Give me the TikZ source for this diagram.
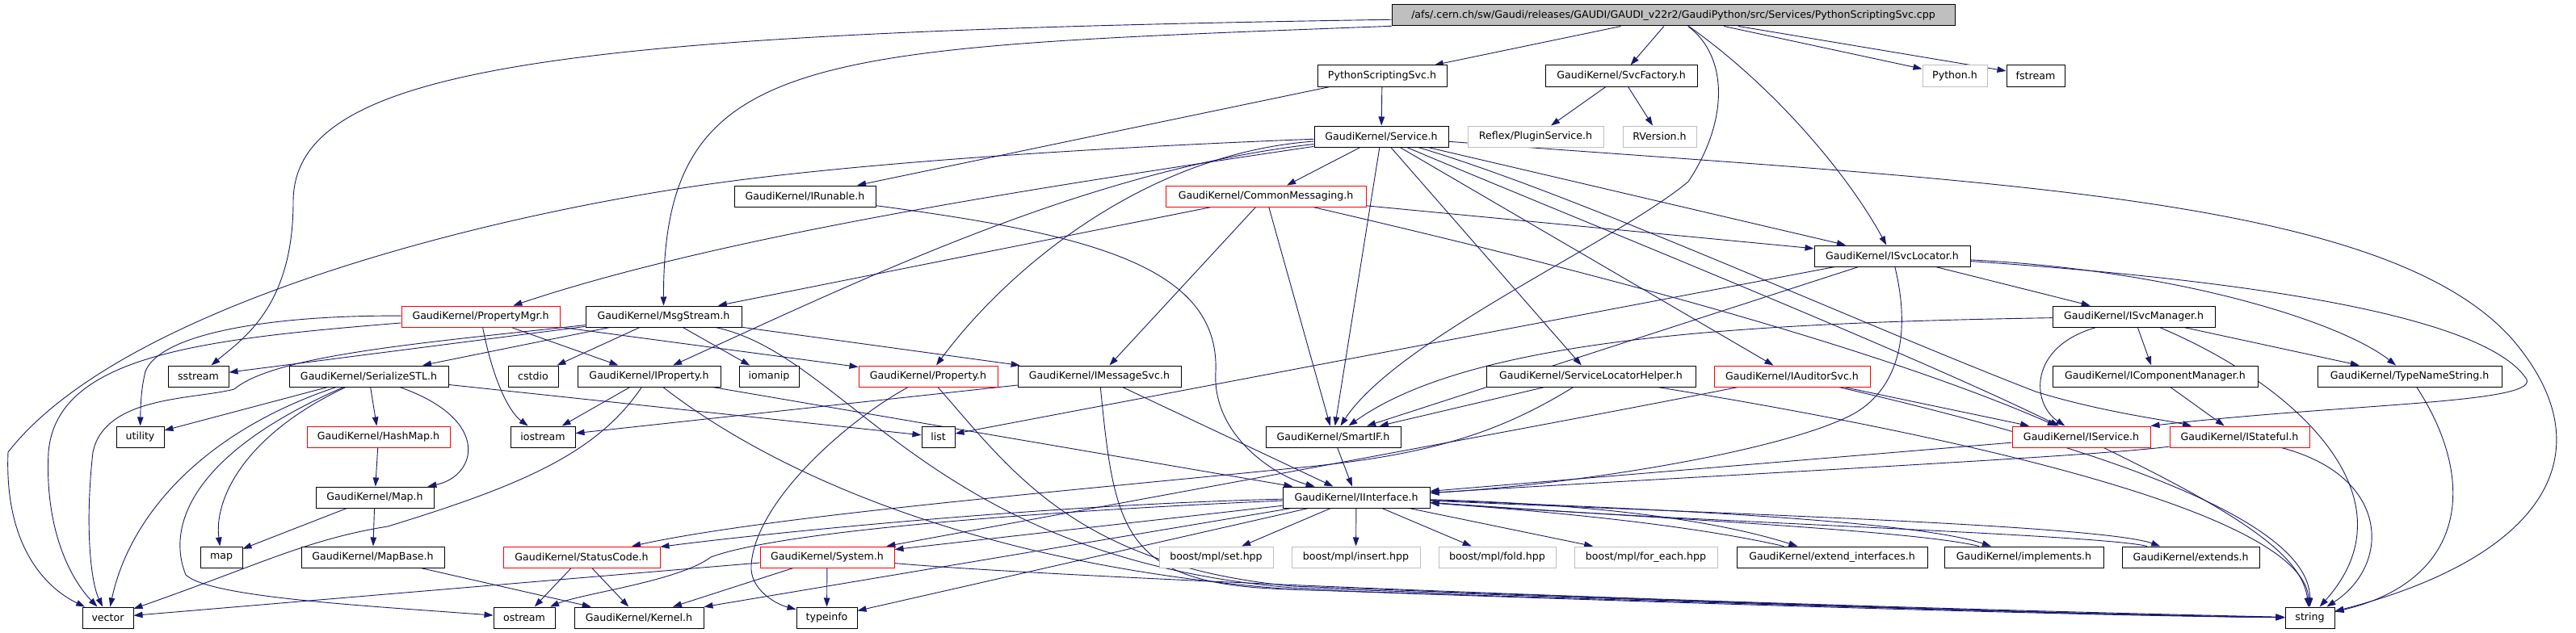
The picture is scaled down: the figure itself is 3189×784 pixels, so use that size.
\documentclass[tikz,border=0pt]{standalone}
\usepackage{fontspec}
\setmainfont{DejaVu Sans}
\usetikzlibrary{arrows.meta}
\definecolor{edgec}{HTML}{191970}
\definecolor{grayb}{HTML}{BFBFBF}
\definecolor{redb}{HTML}{FF0000}
\pgfdeclarelayer{bgl}
\pgfdeclarelayer{edgel}
\pgfsetlayers{bgl,edgel,main}
\tikzset{
  box/.style={draw, fill=white, line width=1pt, minimum height=26pt, inner sep=0pt,
    font=\fontsize{12.6}{14}\selectfont, anchor=center},
  nb/.style={box, draw=black},
  nr/.style={box, draw=redb},
  ng/.style={box, draw=grayb},
  nroot/.style={box, draw=black, fill=grayb},
  edge/.style={draw=edgec, line width=0.9pt, -{Triangle[length=11pt,width=7.5pt]}},
}
\begin{document}
\begin{tikzpicture}[x=1pt,y=-1pt]
\begin{pgfonlayer}{bgl}
\fill[white] (0,0) rectangle (3189,784);
\end{pgfonlayer}
\useasboundingbox (0,0) rectangle (3189,784);
% rank 0
\node[nroot, minimum width=697pt] (root) at (2071.5,19) {/afs/.cern.ch/sw/Gaudi/releases/GAUDI/GAUDI\_v22r2/GaudiPython/src/Services/PythonScriptingSvc.cpp};
% rank 1
\node[nb, minimum width=160pt] (pss) at (1711,94) {PythonScriptingSvc.h};
\node[nb, minimum width=188pt] (svcf) at (2007,94) {GaudiKernel/SvcFactory.h};
\node[ng, minimum width=80pt] (pyh) at (2420,94) {Python.h};
\node[nb, minimum width=72pt] (fstream) at (2520,94) {fstream};
% rank 2
\node[nb, minimum width=166pt] (service) at (1710,169) {GaudiKernel/Service.h};
\node[ng, minimum width=168pt] (plugin) at (1901,169) {Reflex/PluginService.h};
\node[ng, minimum width=91pt] (rversion) at (2054.5,169) {RVersion.h};
% rank 3
\node[nb, minimum width=175pt] (irunable) at (996.5,243) {GaudiKernel/IRunable.h};
\node[nr, minimum width=248pt] (commsg) at (1567,243) {GaudiKernel/CommonMessaging.h};
% rank 4
\node[nb, minimum width=193pt] (isvcloc) at (2342.5,317) {GaudiKernel/ISvcLocator.h};
% rank 5
\node[nr, minimum width=196pt] (propmgr) at (595,392) {GaudiKernel/PropertyMgr.h};
\node[nb, minimum width=193pt] (msgstream) at (821.5,392) {GaudiKernel/MsgStream.h};
\node[nb, minimum width=201pt] (isvcmgr) at (2641.5,392) {GaudiKernel/ISvcManager.h};
% rank 6
\node[nb, minimum width=75pt] (sstream) at (245.5,466) {sstream};
\node[nb, minimum width=197pt] (serialize) at (456.5,466) {GaudiKernel/SerializeSTL.h};
\node[nb, minimum width=62pt] (cstdio) at (660,466) {cstdio};
\node[nb, minimum width=177pt] (iprop) at (803.5,466) {GaudiKernel/IProperty.h};
\node[nb, minimum width=74pt] (iomanip) at (952,466) {iomanip};
\node[nr, minimum width=172pt] (property) at (1149,466) {GaudiKernel/Property.h};
\node[nb, minimum width=202pt] (imsgsvc) at (1361,466) {GaudiKernel/IMessageSvc.h};
\node[nb, minimum width=259pt] (slh) at (1969.5,466) {GaudiKernel/ServiceLocatorHelper.h};
\node[nr, minimum width=193pt] (iauditor) at (2218.5,466) {GaudiKernel/IAuditorSvc.h};
\node[nb, minimum width=254pt] (icompmgr) at (2668,466) {GaudiKernel/IComponentManager.h};
\node[nb, minimum width=228pt] (typename) at (2983,466) {GaudiKernel/TypeNameString.h};
% rank 7
\node[nb, minimum width=59pt] (utility) at (173.5,541) {utility};
\node[nr, minimum width=177pt] (hashmap) at (468.5,541) {GaudiKernel/HashMap.h};
\node[nb, minimum width=80pt] (iostream) at (672,541) {iostream};
\node[nb, minimum width=41pt] (list) at (1161.5,541) {list};
\node[nb, minimum width=167pt] (smartif) at (1650.5,541) {GaudiKernel/SmartIF.h};
\node[nr, minimum width=171pt] (iservice) at (2576.5,541) {GaudiKernel/IService.h};
\node[nr, minimum width=173pt] (istateful) at (2772.5,541) {GaudiKernel/IStateful.h};
% rank 8
\node[nb, minimum width=146pt] (mapH) at (464,616) {GaudiKernel/Map.h};
\node[nb, minimum width=182pt] (iinterface) at (1679,616) {GaudiKernel/IInterface.h};
% rank 9
\node[nb, minimum width=52pt] (map) at (274,690) {map};
\node[nb, minimum width=177pt] (mapbase) at (461.5,690) {GaudiKernel/MapBase.h};
\node[nr, minimum width=194pt] (statuscode) at (720,690) {GaudiKernel/StatusCode.h};
\node[nr, minimum width=166pt] (system) at (1024,690) {GaudiKernel/System.h};
\node[ng, minimum width=141pt] (mplset) at (1505.5,690) {boost/mpl/set.hpp};
\node[ng, minimum width=159pt] (mplinsert) at (1678.5,690) {boost/mpl/insert.hpp};
\node[ng, minimum width=145pt] (mplfold) at (1853.5,690) {boost/mpl/fold.hpp};
\node[ng, minimum width=177pt] (mplforeach) at (2037.5,690) {boost/mpl/for\_each.hpp};
\node[nb, minimum width=236pt] (extif) at (2268,690) {GaudiKernel/extend\_interfaces.h};
\node[nb, minimum width=197pt] (implements) at (2505.5,690) {GaudiKernel/implements.h};
\node[nb, minimum width=170pt] (extends) at (2712,690) {GaudiKernel/extends.h};
% rank 10
\node[nb, minimum width=63pt] (vector) at (133.5,765) {vector};
\node[nb, minimum width=76pt] (ostream) at (649,765) {ostream};
\node[nb, minimum width=160pt] (kernel) at (791,765) {GaudiKernel/Kernel.h};
\node[nb, minimum width=75pt] (typeinfo) at (1023.5,765) {typeinfo};
\node[nb, minimum width=61pt] (string) at (2859.5,765) {string};

\begin{pgfonlayer}{edgel}
% root
\draw[edge] (root) -- (pss);
\draw[edge] (root) -- (svcf);
\draw[edge] (root) -- (pyh);
\draw[edge] (root) -- (fstream);
\draw[edge] (root) .. controls (2200,110) and (2290,220) .. (isvcloc);
\draw[edge] (root) .. controls (2140,70) and (2140,150) .. (2090,225) .. controls (2000,300) and (1730,420) .. (smartif);
\draw[edge] (root) .. controls (1000,60) and (821,60) .. (msgstream);
\draw[edge] (root) .. controls (700,40) and (363,80) .. (363,250) .. controls (363,380) and (300,420) .. (sstream);
% pss, svcf
\draw[edge] (pss) -- (service);
\draw[edge] (pss) -- (irunable);
\draw[edge] (svcf) -- (plugin);
\draw[edge] (svcf) -- (rversion);
% service
\draw[edge] (service) .. controls (1300,185) and (1050,205) .. (900,225) .. controls (600,265) and (150,380) .. (10,560) .. controls (5,680) and (60,730) .. (vector);
\draw[edge] (service) .. controls (1300,230) and (900,290) .. (propmgr);
\draw[edge] (service) .. controls (1350,210) and (1080,340) .. (iprop);
\draw[edge] (service) .. controls (1420,190) and (1250,330) .. (property);
\draw[edge] (service) -- (commsg);
\draw[edge] (service) -- (smartif);
\draw[edge] (service) -- (slh);
\draw[edge] (service) -- (iauditor);
\draw[edge] (service) -- (isvcloc);
\draw[edge] (service) .. controls (2450,225) and (2950,240) .. (3110,420) .. controls (3230,560) and (3150,690) .. (string);
\draw[edge] (service) .. controls (1900,250) and (2350,430) .. (iservice);
\draw[edge] (service) .. controls (1950,240) and (2300,400) .. (2520,485) .. controls (2600,510) and (2680,520) .. (istateful);
% commsg
\draw[edge] (commsg) -- (msgstream);
\draw[edge] (commsg) -- (imsgsvc);
\draw[edge] (commsg) -- (smartif);
\draw[edge] (commsg) -- (isvcloc);
\draw[edge] (commsg) .. controls (1900,320) and (2300,420) .. (iservice);
% irunable
\draw[edge] (irunable) .. controls (1350,290) and (1510,330) .. (1505,460) .. controls (1500,540) and (1580,590) .. (iinterface);
% propmgr
\draw[edge] (propmgr) .. controls (350,390) and (200,410) .. (180,460) .. controls (175,480) and (174,500) .. (utility);
\draw[edge] (propmgr) .. controls (250,420) and (70,440) .. (60,560) .. controls (55,660) and (90,720) .. (vector);
\draw[edge] (propmgr) .. controls (610,470) and (630,510) .. (iostream);
\draw[edge] (propmgr) -- (iprop);
\draw[edge] (propmgr) -- (property);
% msgstream
\draw[edge] (msgstream) -- (sstream);
\draw[edge] (msgstream) .. controls (520,425) and (340,440) .. (290,482) .. controls (240,495) and (130,490) .. (115,560) .. controls (105,650) and (112,720) .. (vector);
\draw[edge] (msgstream) -- (serialize);
\draw[edge] (msgstream) -- (cstdio);
\draw[edge] (msgstream) -- (iomanip);
\draw[edge] (msgstream) -- (imsgsvc);
\draw[edge] (msgstream) .. controls (1050,440) and (1150,690) .. (1600,728) .. controls (2100,745) and (2600,762) .. (string);
% serialize
\draw[edge] (serialize) -- (utility);
\draw[edge] (serialize) -- (hashmap);
\draw[edge] (serialize) .. controls (610,520) and (590,590) .. (mapH);
\draw[edge] (serialize) .. controls (250,535) and (160,640) .. (vector);
\draw[edge] (serialize) .. controls (300,540) and (265,620) .. (map);
\draw[edge] (serialize) .. controls (240,560) and (205,650) .. (230,712) .. controls (260,740) and (450,750) .. (ostream);
\draw[edge] (serialize) -- (list);
\draw[edge] (hashmap) -- (mapH);
\draw[edge] (mapH) -- (map);
\draw[edge] (mapH) -- (mapbase);
\draw[edge] (mapbase) -- (kernel);
% iprop
\draw[edge] (iprop) -- (iostream);
\draw[edge] (iprop) .. controls (740,560) and (650,600) .. (480,652) .. controls (380,668) and (320,700) .. (vector);
\draw[edge] (iprop) .. controls (950,580) and (1200,700) .. (1600,730) .. controls (2100,748) and (2600,763) .. (string);
\draw[edge] (iprop) -- (iinterface);
% property
\draw[edge] (property) .. controls (1050,520) and (935,620) .. (930,700) .. controls (928,730) and (960,748) .. (typeinfo);
\draw[edge] (property) .. controls (1250,580) and (1330,700) .. (1600,726) .. controls (2100,745) and (2600,762) .. (string);
% imsgsvc
\draw[edge] (imsgsvc) -- (iostream);
\draw[edge] (imsgsvc) -- (iinterface);
\draw[edge] (imsgsvc) .. controls (1380,660) and (1390,725) .. (1600,730) .. controls (2100,746) and (2600,762) .. (string);
% smartif
\draw[edge] (smartif) -- (iinterface);
% slh
\draw[edge] (slh) -- (smartif);
\draw[edge] (slh) .. controls (1850,540) and (1760,565) .. (1600,580) .. controls (1300,610) and (950,640) .. (statuscode);
\draw[edge] (slh) .. controls (2300,520) and (2850,620) .. (string);
% iauditor
\draw[edge] (iauditor) -- (iservice);
\draw[edge] (iauditor) .. controls (2450,520) and (2860,620) .. (string);
\draw[edge] (iauditor) .. controls (1950,520) and (1350,630) .. (system);
% isvcloc
\draw[edge] (isvcloc) -- (isvcmgr);
\draw[edge] (isvcloc) .. controls (2700,335) and (2900,400) .. (typename);
\draw[edge] (isvcloc) .. controls (2900,355) and (3090,410) .. (3128,470) .. controls (3140,500) and (2900,500) .. (iservice.north east);
\draw[edge] (isvcloc) -- (smartif);
\draw[edge] (isvcloc) -- (list);
\draw[edge] (isvcloc) .. controls (2370,430) and (2340,490) .. (2290,515) .. controls (2200,560) and (1950,600) .. (iinterface);
% isvcmgr
\draw[edge] (isvcmgr) .. controls (2510,430) and (2515,500) .. (iservice);
\draw[edge] (isvcmgr) -- (icompmgr);
\draw[edge] (isvcmgr) -- (typename);
\draw[edge] (isvcmgr) .. controls (2850,480) and (2990,620) .. (string);
\draw[edge] (isvcmgr) .. controls (2150,400) and (1820,420) .. (smartif);
\draw[edge] (icompmgr) -- (istateful);
\draw[edge] (typename) .. controls (3070,600) and (3050,720) .. (string);
% iservice, istateful
\draw[edge] (iservice) .. controls (2780,640) and (2850,690) .. (string);
\draw[edge] (iservice) -- (iinterface);
\draw[edge] (istateful) .. controls (2600,565) and (2100,590) .. (iinterface);
\draw[edge] (istateful) .. controls (2960,590) and (2960,700) .. (string);
% iinterface
\draw[edge] (iinterface) .. controls (1300,625) and (950,660) .. (statuscode);
\draw[edge] (iinterface) -- (system);
\draw[edge] (iinterface) -- (kernel);
\draw[edge] (iinterface) .. controls (1250,635) and (960,660) .. (880,690) .. controls (840,720) and (720,735) .. (ostream);
\draw[edge] (iinterface) -- (typeinfo);
\draw[edge] (iinterface) -- (mplset);
\draw[edge] (iinterface) -- (mplinsert);
\draw[edge] (iinterface) -- (mplfold);
\draw[edge] (iinterface) -- (mplforeach);
\draw[edge] (iinterface) .. controls (1950,624) and (2110,640) .. (extif);
\draw[edge] (extif) .. controls (2100,652) and (1950,636) .. (iinterface);
\draw[edge] (iinterface) .. controls (2050,630) and (2370,645) .. (implements);
\draw[edge] (implements) .. controls (2370,657) and (2050,642) .. (iinterface);
\draw[edge] (iinterface) .. controls (2100,635) and (2600,650) .. (extends);
\draw[edge] (extends) .. controls (2600,662) and (2100,647) .. (iinterface);
% system, statuscode
\draw[edge] (system) -- (vector);
\draw[edge] (system) -- (kernel);
\draw[edge] (system) -- (typeinfo);
\draw[edge] (system) .. controls (1300,715) and (2100,748) .. (string);
\draw[edge] (statuscode) -- (ostream);
\draw[edge] (statuscode) -- (kernel);
\end{pgfonlayer}
\end{tikzpicture}
\end{document}
